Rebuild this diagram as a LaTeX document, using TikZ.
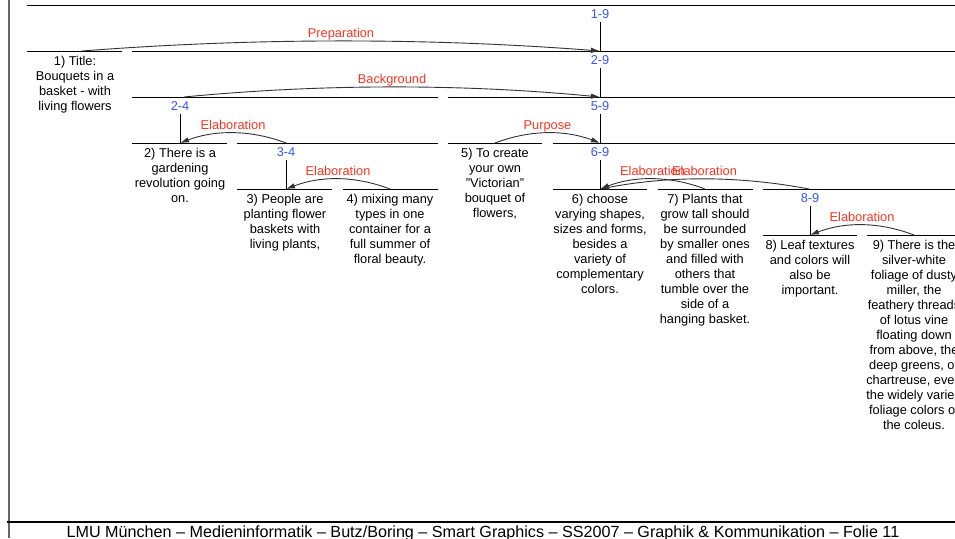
\documentclass[tikz,border=0pt]{standalone}
\usepackage{fontspec}
\setmainfont{Liberation Sans}
\usetikzlibrary{arrows.meta}
\definecolor{spanblue}{RGB}{51,85,255}
\definecolor{relred}{RGB}{255,51,34}
\begin{document}
\begin{tikzpicture}[x=1pt,y=-1pt,
  bar/.style={line width=1pt,black},
  stem/.style={line width=1pt,black},
  rel/.style={line width=0.9pt,black!80,shorten >=1pt,-{Triangle[length=8pt,width=5pt]}},
  seg/.style={align=center,anchor=north,inner sep=0pt,
    font=\fontsize{12.8}{15}\selectfont,execute at begin node={\rule{0pt}{12pt}}},
  spanlbl/.style={anchor=base,inner sep=0pt,text=spanblue,font=\fontsize{12.8}{15}\selectfont},
  rlabel/.style={anchor=base,inner sep=0pt,yshift=3.5pt,text=relred,font=\fontsize{12.8}{15}\selectfont},
]
\useasboundingbox (0,0) rectangle (955,538);
\clip (0,0) rectangle (955,538);

% frame of the slide
\draw[line width=1.2pt,black!60] (9,0) -- (9,538);
\draw[line width=1.6pt,black] (7,522) -- (960,522);
\node[anchor=base,inner sep=0pt,font=\fontsize{16.15}{19}\selectfont] (footer) at (483,537)
  {LMU München -- Medieninformatik -- Butz/Boring -- Smart Graphics -- SS2007 -- Graphik \& Kommunikation -- Folie 11};

% span bars
\draw[bar] (27,5) -- (960,5);
\draw[bar] (27,51) -- (122,51);   \draw[bar] (132,51) -- (960,51);
\draw[bar] (132,97) -- (438,97);  \draw[bar] (448,97) -- (960,97);
\draw[bar] (132,143) -- (227,143); \draw[bar] (237,143) -- (438,143);
\draw[bar] (448,143) -- (542,143); \draw[bar] (553,143) -- (960,143);
\draw[bar] (237,189) -- (332,189); \draw[bar] (343,189) -- (438,189);
\draw[bar] (553,189) -- (647,189); \draw[bar] (658,189) -- (753,189);
\draw[bar] (763,189) -- (960,189);
\draw[bar] (763,235) -- (857,235); \draw[bar] (867,235) -- (960,235);

% span labels
\node[spanlbl] (l19) at (600,18.5) {1-9};
\node[spanlbl] (l29) at (600,64.5) {2-9};
\node[spanlbl] (l24) at (180,110.5) {2-4};
\node[spanlbl] (l59) at (600,110.5) {5-9};
\node[spanlbl] (l34) at (286,156.5) {3-4};
\node[spanlbl] (l69) at (600,156.5) {6-9};
\node[spanlbl] (l89) at (810,202.5) {8-9};

% junctions where stems meet the nucleus bars
\coordinate (j29) at (600,51);
\coordinate (j59) at (600,97);
\coordinate (j2)  at (180,143);
\coordinate (j69) at (600,143);
\coordinate (j3)  at (286,189);
\coordinate (j6)  at (600,189);
\coordinate (j8)  at (810,235);

% satellite attachment points
\coordinate (s1)  at (82,51);
\coordinate (s24) at (184,97);
\coordinate (s34) at (286,143);
\coordinate (s5)  at (495,143);
\coordinate (s4)  at (390,189);
\coordinate (s7)  at (705,189);
\coordinate (s89) at (809,189);
\coordinate (s9)  at (914,235);

% stems
\draw[stem] ([yshift=-3.5pt]l19.base) -- (j29);
\draw[stem] ([yshift=-3.5pt]l29.base) -- (j59);
\draw[stem] ([yshift=-3.5pt]l24.base) -- (j2);
\draw[stem] ([yshift=-3.5pt]l59.base) -- (j69);
\draw[stem] ([yshift=-3.5pt]l34.base) -- (j3);
\draw[stem] ([yshift=-3.5pt]l69.base) -- (j6);
\draw[stem] ([yshift=-3.5pt]l89.base) -- (j8);

% segment texts
\node[seg] (n1) at (75,56.5) {1) Title:\\Bouquets in a\\basket - with\\living flowers};
\node[seg] (n2) at (180,148.5) {2) There is a\\gardening\\revolution going\\on.};
\node[seg] (n3) at (285,194.5) {3) People are\\planting flower\\baskets with\\living plants,};
\node[seg] (n4) at (390,194.5) {4) mixing many\\types in one\\container for a\\full summer of\\floral beauty.};
\node[seg] (n5) at (495,148.5) {5) To create\\your own\\"Victorian"\\bouquet of\\flowers,};
\node[seg] (n6) at (600,194.5) {6) choose\\varying shapes,\\sizes and forms,\\besides a\\variety of\\complementary\\colors.};
\node[seg] (n7) at (705,194.5) {7) Plants that\\grow tall should\\be surrounded\\by smaller ones\\and filled with\\others that\\tumble over the\\side of a\\hanging basket.};
\node[seg] (n8) at (810,240.5) {8) Leaf textures\\and colors will\\also be\\important.};
\node[seg] (n9) at (914,240.5) {9) There is the\\silver-white\\foliage of dusty\\miller, the\\feathery threads\\of lotus vine\\floating down\\from above, the\\deep greens, or\\chartreuse, even\\the widely varied\\foliage colors of\\the coleus.};

% relations: satellite -> nucleus
\draw[rel] (s1) .. controls +(172,-13.3) and +(-172,-13.3) .. (j29)
  node[rlabel,pos=0.5] {Preparation};
\draw[rel] (s24) .. controls +(138,-13.3) and +(-138,-13.3) .. (j59)
  node[rlabel,pos=0.5] {Background};
\draw[rel] (s34) .. controls +(-35,-13.3) and +(35,-13.3) .. (j2)
  node[rlabel,pos=0.5] {Elaboration};
\draw[rel] (s5) .. controls +(35,-13.3) and +(-35,-13.3) .. (j69)
  node[rlabel,pos=0.5] {Purpose};
\draw[rel] (s4) .. controls +(-35,-13.3) and +(35,-13.3) .. (j3)
  node[rlabel,pos=0.5] {Elaboration};
\draw[rel] (s7) .. controls +(-35,-13.3) and +(35,-13.3) .. (j6)
  node[rlabel,pos=0.5] {Elaboration};
\draw[rel] (s89) .. controls +(-70,-13.3) and +(70,-13.3) .. (j6)
  node[rlabel,pos=0.5] {Elaboration};
\draw[rel] (s9) .. controls +(-35,-13.3) and +(35,-13.3) .. (j8)
  node[rlabel,pos=0.5] {Elaboration};
\end{tikzpicture}
\end{document}
